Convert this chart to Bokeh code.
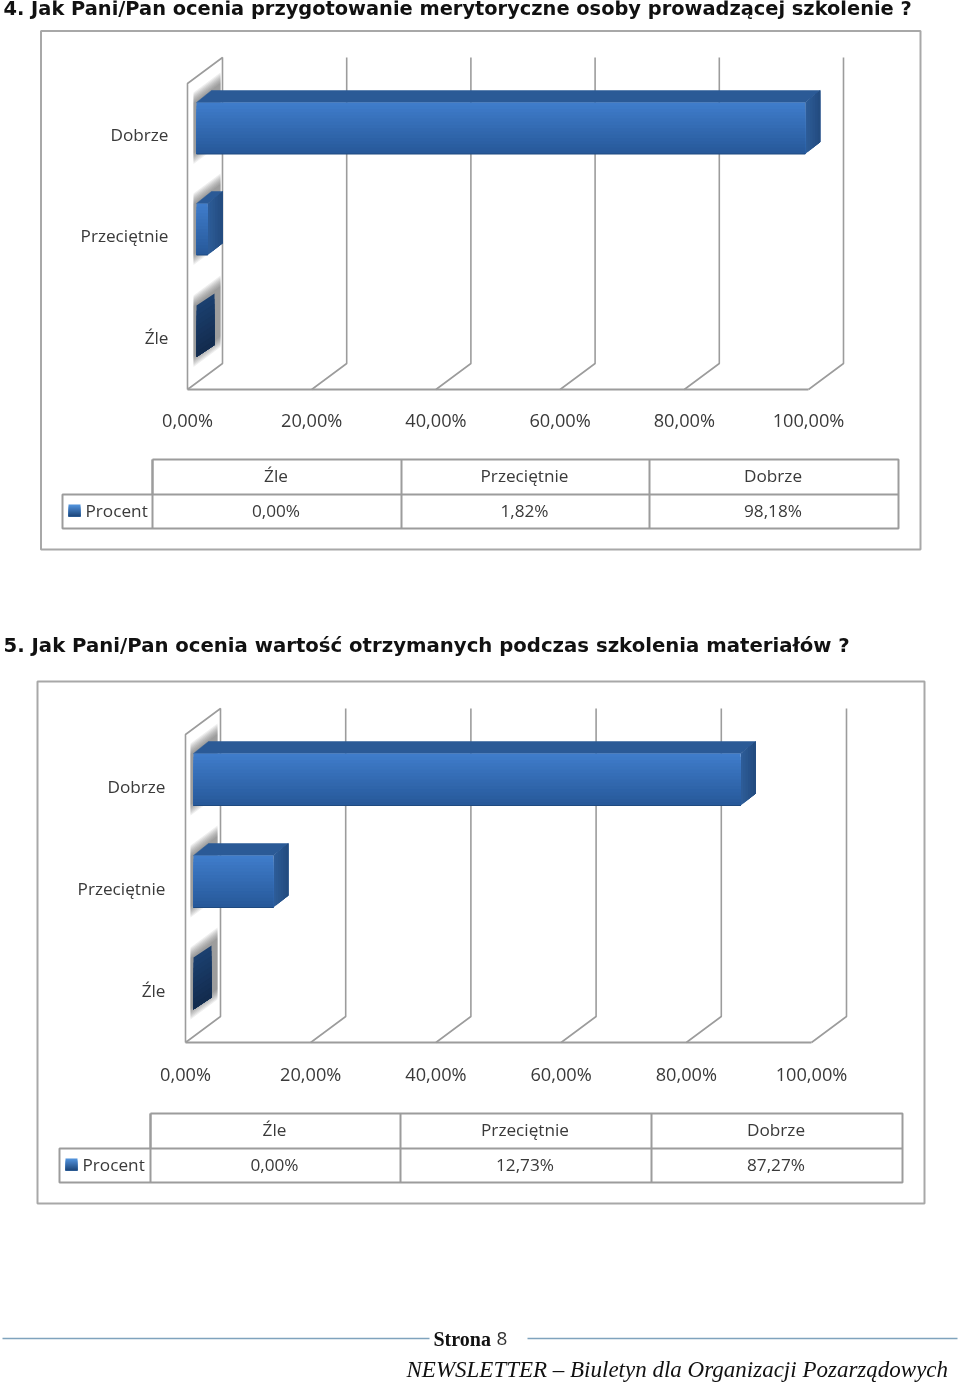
from bokeh.plotting import figure
from bokeh.embed import file_html
from bokeh.resources import INLINE
from bokeh.core.properties import value
from bokeh.models import Range1d

# ---------- data ----------
categories = ["Źle", "Przeciętnie", "Dobrze"]
series_name = "Procent"
values_q4 = [0.00, 1.82, 98.18]
values_q5 = [0.00, 12.73, 87.27]
tick_values = [0, 20, 40, 60, 80, 100]
title_q4 = "4. Jak Pani/Pan ocenia przygotowanie merytoryczne osoby prowadzącej szkolenie ?"
title_q5 = "5. Jak Pani/Pan ocenia wartość otrzymanych podczas szkolenia materiałów ?"
footer_page = ["Strona", "8"]
footer_text = "NEWSLETTER – Biuletyn dla  Organizacji Pozarządowych"

W, H = 960, 1384
p = figure(width=W, height=H, x_range=Range1d(0, W), y_range=Range1d(H, 0),
           output_backend="svg", toolbar_location=None, min_border=0,
           outline_line_color=None, x_axis_location=None, y_axis_location=None,
           styles={"position": "absolute", "left": "0px", "top": "0px", "filter": "blur(0.4px)"})
p.xgrid.visible = False
p.ygrid.visible = False

GRID = "#9c9c9c"
TXT = "#3a3a3a"
FONT = value("Open Sans")
TOPS = "#2b5a96"


def pct(v):
    return f"{v:.2f}".replace(".", ",") + "%"


def mix(a, b, t):
    ca = [int(a[i:i + 2], 16) for i in (1, 3, 5)]
    cb = [int(b[i:i + 2], 16) for i in (1, 3, 5)]
    return "#%02x%02x%02x" % tuple(round(x + (y - x) * t) for x, y in zip(ca, cb))


def chart(values, g):
    x0, x100 = g["x0"], g["x100"]
    ddx, ddy = g["ddx"], g["ddy"]
    sx = (x100 - x0) / 100
    bottom = g["floor"]
    top = g["wall_top"]
    # panel
    p.quad(left=g["panel"][0], right=g["panel"][1], top=g["panel"][2], bottom=g["panel"][3],
           fill_color="white", line_color="#a8a8a8", line_width=2)
    # gridlines
    for t in tick_values[1:]:
        fx = x0 + t * sx
        p.line([fx, fx + ddx, fx + ddx], [bottom, bottom + ddy, top], line_color=GRID, line_width=1.6)
    # wall
    p.line([x0, x0, x0 + ddx, x0 + ddx, x0], [bottom, top - ddy, top, bottom + ddy, bottom],
           line_color=GRID, line_width=1.6)
    p.line([x0, x100], [bottom, bottom], line_color=GRID, line_width=2)
    # tick labels
    p.text([x0 + t * sx for t in tick_values], [g["tick_y"]] * 6, text=[f"{t},00%" for t in tick_values],
           text_font=FONT, text_font_size="18.2px", text_color=TXT, text_align="center", text_baseline="middle")
    # bars
    bx0 = x0 + g["bar_inset"]
    bsx = g["bar_scale"]
    bdx, bdy = 15, -12
    for v, c, yt in zip(values, categories, g["bar_tops"]):
        h = g["bar_h"]
        yb = yt + h
        bx1 = bx0 + v * bsx
        # wall shadow
        for i in range(8, 0, -1):
            e = i * 1.5
            sxl = bx0 - 3
            sxr = min(bx0 + 24, x0 + ddx - 1)
            k = (ddy / ddx)
            p.patch([sxl, sxr, sxr, sxl],
                    [yt - e + 2, yt - e + 2 + k * (sxr - sxl), yb + e - 2 + k * (sxr - sxl), yb + e - 2],
                    fill_color="#555555", fill_alpha=0.10, line_color=None)
        if v == 0:
            # dark zero-height slab: nested layers, so that no seams show
            n = 10
            for i in range(n):
                a = yt + h * i / n
                p.patch([bx0, bx0 + 18, bx0 + 18, bx0], [a, a - 12, yb - 12, yb],
                        fill_color=mix("#1b3f6e", "#132c4f", i / (n - 1)), line_color=None)
        else:
            # top
            p.patch([bx0, bx1, bx1 + bdx, bx0 + bdx], [yt, yt, yt + bdy, yt + bdy],
                    fill_color=TOPS, line_color=TOPS, line_width=0.5)
            # right side, shaded towards the back edge: nested layers
            n = 6
            for i in range(n):
                a = bx1 + bdx * i / n
                ka = bdy * i / n
                p.patch([a, bx1 + bdx, bx1 + bdx, a], [yt + ka, yt + bdy, yb + bdy, yb + ka],
                        fill_color=mix("#2d5c98", "#234c80", i / (n - 1)), line_color=None)
            # front, vertical gradient: nested layers
            n = 16
            for i in range(n):
                col = mix("#3f7cca", "#27599a", i / (n - 1))
                p.quad(left=bx0, right=bx1, top=yt + h * i / n, bottom=yb, fill_color=col, line_color=None)
            p.line([bx0, bx1], [yb, yb], line_color="#1f4a80", line_width=1)
        # category labels
        p.text([g["cat_x"]], [yt + h / 2 + g["cat_dy"]], text=[c], text_font=FONT, text_font_size="17.2px",
               text_color=TXT, text_align="right", text_baseline="middle")
    # data table
    c = g["cols"]
    r = g["rows"]
    lft = g["tbl_left"]
    p.line([c[0], c[3], c[3], lft, lft, c[3]], [r[0], r[0], r[2], r[2], r[1], r[1]], line_color=GRID, line_width=2)
    for cx in c[:3]:
        p.line([cx, cx], [r[0], r[2]], line_color=GRID, line_width=2)
    p.line([c[0], c[0]], [r[0], r[1]], line_color=GRID, line_width=2)
    mids = [(c[i] + c[i + 1]) / 2 - 1 for i in range(3)]
    p.text(mids, [(r[0] + r[1]) / 2 - 1.5] * 3, text=categories, text_font=FONT, text_font_size="17.2px", text_color=TXT,
           text_align="center", text_baseline="middle")
    p.text(mids, [(r[1] + r[2]) / 2 - 1.5] * 3, text=[pct(v) for v in values], text_font=FONT, text_font_size="17.2px",
           text_color=TXT, text_align="center", text_baseline="middle")
    # legend key
    sw = lft + 6
    sy = (r[1] + r[2]) / 2 - 7
    for i in range(6):
        col = mix("#4f8fd8", "#1f4a80", i / 5)
        p.quad(left=sw, right=sw + 12, top=sy + 2 * i, bottom=sy + 12, fill_color=col, line_color=None)
    p.text([sw + 17], [(r[1] + r[2]) / 2 - 1.5], text=[series_name], text_font=FONT, text_font_size="17.2px", text_color=TXT,
           text_align="left", text_baseline="middle")


G4 = dict(panel=(40.5, 920, 30.5, 549), x0=187, x100=808, ddx=35, ddy=-26, floor=389, wall_top=57,
          tick_y=419.5, bar_inset=9, bar_scale=6.2, bar_tops=[305, 203, 102], bar_h=51.5, cat_x=168, cat_dy=6.5,
          cols=(152, 401, 649, 898), rows=(459, 494, 528), tbl_left=62)
G5 = dict(panel=(37, 924, 681, 1203), x0=185, x100=811, ddx=35, ddy=-26, floor=1042, wall_top=708,
          tick_y=1073.5, bar_inset=8, bar_scale=6.27, bar_tops=[957, 855, 753], bar_h=52, cat_x=165, cat_dy=6.5,
          cols=(150, 400, 651, 902), rows=(1113, 1148, 1182), tbl_left=59)

chart(values_q4, G4)
chart(values_q5, G5)

# titles
TF = value("DejaVu Sans")
p.text([3], [8], text=[title_q4], text_font=TF, text_font_style="bold", text_font_size="19.4px", text_color="#111111",
       text_baseline="middle")
p.text([3], [644.5], text=[title_q5], text_font=TF, text_font_style="bold", text_font_size="19.7px", text_color="#111111",
       text_baseline="middle")

# footer
p.line([2, 429], [1338, 1338], line_color="#7fa3bd", line_width=1.6)
p.line([527, 957], [1338, 1338], line_color="#7fa3bd", line_width=1.6)
p.text([433], [1338], text=[footer_page[0]], text_font=value("Liberation Serif"), text_font_style="bold",
       text_font_size="20px", text_color="#111111", text_baseline="middle")
p.text([496], [1338], text=[footer_page[1]], text_font=value("Open Sans"), text_font_size="19px",
       text_color="#333333", text_baseline="middle")
p.text([406], [1369], text=[footer_text], text_font=value("Liberation Serif"), text_font_style="italic",
       text_font_size="23px", text_color="#111111", text_baseline="middle")

open("out.html", "w").write(file_html(p, INLINE))
